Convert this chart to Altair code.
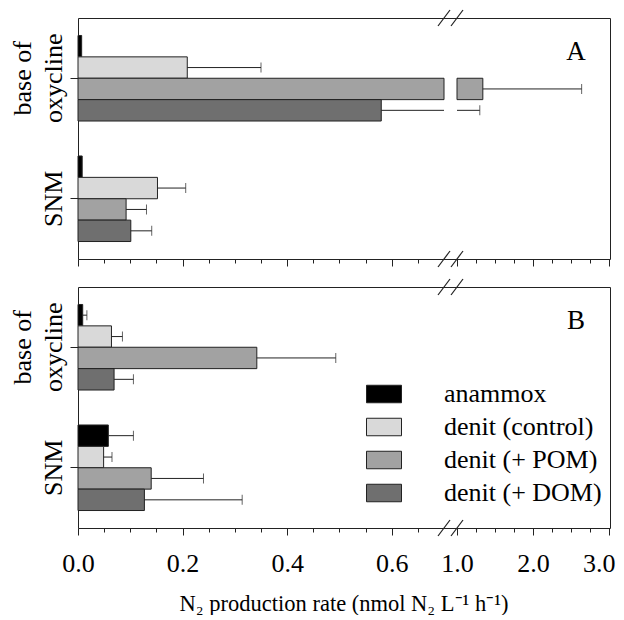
import json
import altair as alt
import pandas as pd

# ---------------- data ----------------
groups = ["base of oxycline", "SNM"]
series = ["anammox", "denit (control)", "denit (+ POM)", "denit (+ DOM)"]
colors = ["#000000", "#d9d9d9", "#a2a2a2", "#6f6f6f"]

# panel A
a_base = [0.007, 0.209, 1.34, 0.580]
a_base_err = [None, 0.350, 2.64, 1.30]
a_snm = [0.008, 0.152, 0.092, 0.101]
a_snm_err = [None, 0.206, 0.131, 0.141]
# panel B
b_base = [0.009, 0.064, 0.342, 0.069]
b_base_err = [0.017, 0.085, 0.493, 0.106]
b_snm = [0.058, 0.049, 0.140, 0.127]
b_snm_err = [0.106, 0.065, 0.240, 0.314]

major_ticks = [0, 0.2, 0.4, 0.6, 1.0, 2.0, 3.0]
minor_ticks = [0.05, 0.1, 0.15, 0.25, 0.3, 0.35, 0.45, 0.5, 0.55, 0.65,
               1.25, 1.5, 1.75, 2.25, 2.5, 2.75]
break_at = [0.7, 1.0]
x_domain = [0, 0.7, 1.0, 3.0]

FONT = "Liberation Serif"
W, H = 532, 241
x_range = [0, 366, 379, 531]


def panel_df(base, base_err, snm, snm_err):
    rows = []
    for g, vals, errs in [(groups[0], base, base_err), (groups[1], snm, snm_err)]:
        for s, v, e in zip(series, vals, errs):
            rows.append({"group": g, "series": s, "v": v, "err": e})
    return pd.DataFrame(rows)


xscale = alt.Scale(domain=x_domain, range=x_range, nice=False, zero=False)
yscale = alt.Scale(domain=groups, paddingInner=0.29, paddingOuter=0.145)
yoff_scale = alt.Scale(domain=series, paddingInner=0, paddingOuter=0)

major_js = json.dumps(major_ticks)
last_tick = major_ticks[-1]


def x_axis(show_labels):
    return alt.Axis(
        values=sorted(major_ticks + minor_ticks),
        tickSize={"condition": {"test": f"indexof({major_js}, datum.value) >= 0", "value": 7}, "value": 4},
        tickColor="#222", tickWidth=1, domain=False, grid=False,
        labels=show_labels,
        labelExpr=f"indexof({major_js}, datum.value) >= 0 ? format(datum.value, '.1f') : ''",
        labelAlign={"condition": {"test": f"datum.value == {last_tick}", "value": "right"}, "value": "center"},
        labelOffset={"condition": {"test": f"datum.value == {last_tick}", "value": 6}, "value": 0},
        labelFont=FONT, labelFontSize=26, labelColor="black",
        labelFlush=False, labelOverlap=False, labelPadding=15,
        titleFont=FONT, titleFontSize=22.5, titleFontWeight="normal", titleColor="black",
        titlePadding=16,
    )


y_axis = alt.Axis(
    labelAngle=270, labelAlign="center", labelBaseline="bottom",
    labelExpr="datum.label == 'base of oxycline' ? ['base of', 'oxycline'] : ['', datum.label]",
    labelFont=FONT, labelFontSize=26, labelLineHeight=31, labelColor="black",
    tickSize=8, tickColor="#222", labelPadding=35, domain=False,
)


def panel(df, letter, show_labels, legend):
    title = "N\u2082 production rate (nmol N\u2082 L\u207b\u00b9 h\u207b\u00b9)" if show_labels else None
    base = alt.Chart(df)

    def X(field):
        return alt.X(field, type="quantitative", scale=xscale, axis=x_axis(show_labels), title=title)

    Y = alt.Y("group:N", scale=yscale, axis=y_axis, title=None)
    YO = alt.YOffset("series:N", scale=yoff_scale)
    fill = alt.Fill("series:N", scale=alt.Scale(domain=series, range=colors), legend=legend)

    bar1 = base.transform_calculate(s0="0", e1="min(datum.v, 0.7)").mark_bar(
        stroke="#222", strokeWidth=1
    ).encode(x=X("s0"), x2="e1:Q", y=Y, yOffset=YO, fill=fill)

    bar2 = base.transform_filter("datum.v > 1.0").transform_calculate(s2="1.0").mark_bar(
        stroke="#222", strokeWidth=1
    ).encode(x=X("s2"), x2="v:Q", y=Y, yOffset=YO, fill=fill)

    err1 = base.transform_filter("datum.err != null && datum.v < 0.7").transform_calculate(
        e1="min(datum.err, 0.7)"
    ).mark_rule(color="#222", strokeWidth=1).encode(x=X("v"), x2="e1:Q", y=Y, yOffset=YO)

    err2 = base.transform_filter("datum.err != null && datum.err > 1.0").transform_calculate(
        s2="max(datum.v, 1.0)"
    ).mark_rule(color="#222", strokeWidth=1).encode(x=X("s2"), x2="err:Q", y=Y, yOffset=YO)

    caps = base.transform_filter("datum.err != null").mark_tick(
        color="#222", size=10, thickness=1
    ).encode(x=X("err"), y=Y, yOffset=YO)

    bdf = pd.DataFrame({"b": break_at})
    slash_bottom = alt.Chart(bdf).mark_rule(color="#222", strokeWidth=1.2, xOffset=-6, x2Offset=6).encode(
        x=X("b"), x2="b:Q", y=alt.value(H + 8), y2=alt.value(H - 8)
    )
    slash_top = alt.Chart(bdf).mark_rule(color="#222", strokeWidth=1.2, xOffset=-6, x2Offset=6).encode(
        x=X("b"), x2="b:Q", y=alt.value(8), y2=alt.value(-8)
    )

    txt = alt.Chart(pd.DataFrame({"t": [letter]})).mark_text(
        font=FONT, fontSize=27, color="black", baseline="middle", align="center"
    ).encode(text="t:N", x=alt.value(498), y=alt.value(34))

    return alt.layer(bar1, bar2, err1, err2, caps, slash_bottom, slash_top, txt).properties(
        width=W, height=H
    )


legend_b = alt.Legend(
    orient="none", legendX=288, legendY=89, title=None,
    symbolType="M-1,-0.5H1V0.5H-1Z", symbolSize=1225,
    symbolStrokeColor="#222", symbolStrokeWidth=1, symbolOpacity=1,
    labelFont=FONT, labelFontSize=26, labelColor="black", labelOffset=42,
    labelLimit=0, rowPadding=2,
)

pa = panel(panel_df(a_base, a_base_err, a_snm, a_snm_err), "A", False, None)
pb = panel(panel_df(b_base, b_base_err, b_snm, b_snm_err), "B", True, legend_b)

chart = alt.vconcat(pa, pb, spacing=28, bounds="flush").resolve_scale(
    fill="independent"
).properties(
    padding={"left": 0, "top": 0, "right": 0, "bottom": 0}
).configure_view(stroke="#222", strokeWidth=1)

chart.save("out.html", embed_options={"renderer": "svg", "actions": False})
